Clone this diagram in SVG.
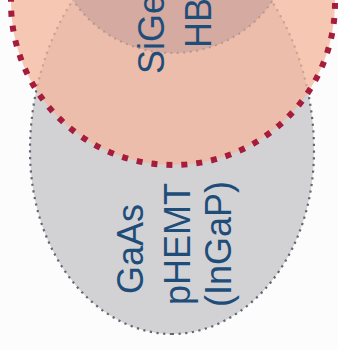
<svg xmlns="http://www.w3.org/2000/svg" width="338" height="350" viewBox="0 0 338 350">
<style>
.lbl{font-family:"Liberation Sans",Arial,sans-serif;font-size:36px;fill:#1f4d7a}
.gray-edge{fill:none;stroke:#626672;stroke-width:2.2;stroke-dasharray:2.2 4.5;stroke-linecap:butt}
.red-edge{fill:none;stroke:#a51c3c;stroke-width:6;stroke-dasharray:6 9}
</style>
<rect width="338" height="350" fill="#fcfcfc"/>
<g id="gaas">
<path d="M172,334 C100,334 30,260 30,150 C30,90 50,30 80,-10 C110,-50 234,-50 264,-10 C294,30 314,90 314,150 C314,260 244,334 172,334 Z" fill="#d2d2d4"/>
<path class="gray-edge" d="M172,334 C100,334 30,260 30,150 C30,90 50,30 80,-10 C110,-50 234,-50 264,-10 C294,30 314,90 314,150 C314,260 244,334 172,334 Z"/>
</g>
<g id="bicmos">
<circle cx="173" cy="3" r="162" fill="#f4b69b" fill-opacity="0.74"/>
</g>
<g id="sige-hbt">
<ellipse cx="173" cy="-60" rx="118" ry="113" fill="#d4aaa1"/>
<ellipse cx="173" cy="-60" rx="118" ry="113" fill="none" stroke="#b8968f" stroke-width="2" stroke-dasharray="2 4.5"/>
</g>
<g id="bicmos-edge">
<circle class="red-edge" cx="173" cy="3" r="162"/>
</g>
<g id="labels">
<text class="lbl" transform="translate(164,74) rotate(-90)">SiGe</text>
<text class="lbl" transform="translate(211,48) rotate(-90)">HB</text>
<text class="lbl" transform="translate(143,294) rotate(-90)">GaAs</text>
<text class="lbl" transform="translate(190,305) rotate(-90)">pHEMT</text>
<text class="lbl" transform="translate(231,307) rotate(-90)">(InGaP)</text>
</g>
<g id="connectors"></g>
</svg>
